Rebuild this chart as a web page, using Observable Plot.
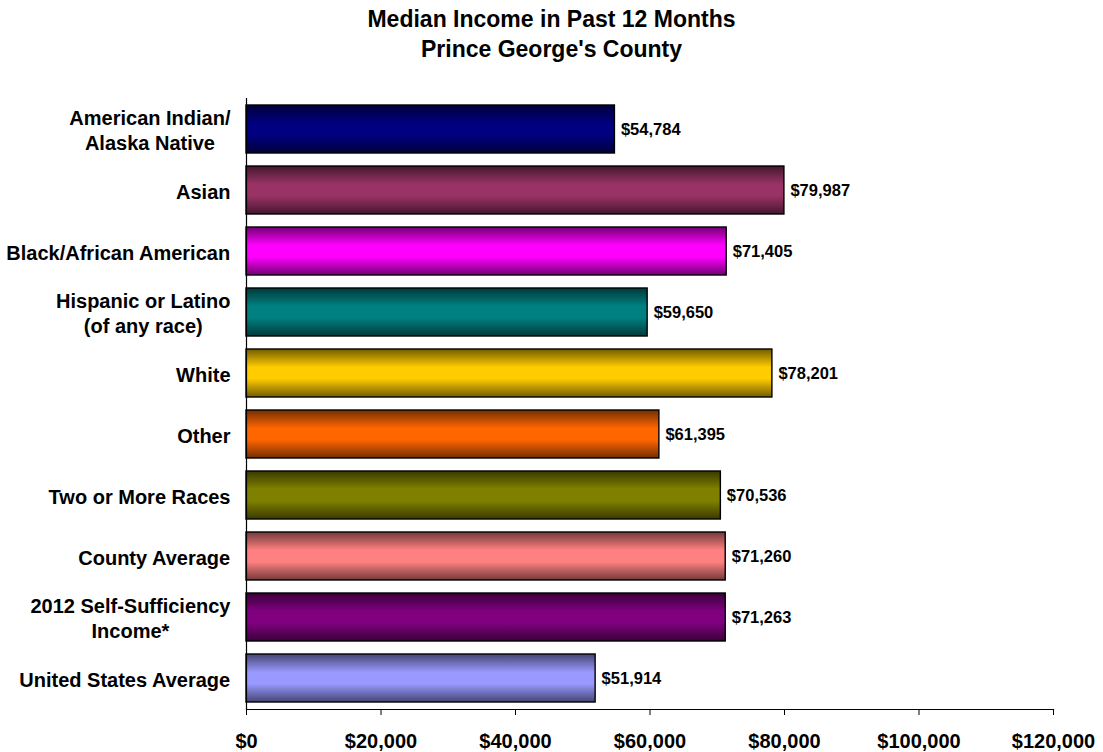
<!DOCTYPE html>
<html>
<head>
<meta charset="utf-8">
<script src="https://cdn.jsdelivr.net/npm/d3@7"></script>
<script src="https://cdn.jsdelivr.net/npm/@observablehq/plot@0.6"></script>
<style>
  html, body { margin: 0; padding: 0; background: #ffffff; }
  #title { width: 1103px; padding-top: 4px; text-align: center; font-family: "Liberation Sans", Arial, sans-serif;
           font-weight: bold; font-size: 23px; line-height: 30px; color: #000; }
  #chart svg { display: block; }
</style>
</head>
<body>
<div id="title">Median Income in Past 12 Months<br>Prince George's County</div>
<div id="chart"></div>
<script>
const categories = [
  "American Indian/Alaska Native",
  "Asian",
  "Black/African American",
  "Hispanic or Latino (of any race)",
  "White",
  "Other",
  "Two or More Races",
  "County Average",
  "2012 Self-Sufficiency Income*",
  "United States Average"
];
const categoryLabels = [
  "American Indian/\nAlaska Native",
  "Asian",
  "Black/African American",
  "Hispanic or Latino\n(of any race)",
  "White",
  "Other",
  "Two or More Races",
  "County Average",
  "2012 Self-Sufficiency\nIncome*",
  "United States Average"
];
const values = [54784, 79987, 71405, 59650, 78201, 61395, 70536, 71260, 71263, 51914];
const colors = ["#000080", "#993366", "#FF00FF", "#008080", "#FFCC00", "#FF6600", "#808000", "#FF8080", "#800080", "#9999FF"];
const xTicks = [0, 20000, 40000, 60000, 80000, 100000, 120000];

const FONT = "'Liberation Sans', Arial, sans-serif";
const money = v => "$" + d3.format(",")(v);

const rows = categories.map((c, i) => ({category: c, value: values[i], fill: `url(#barGrad${i})`}));

// measure label widths to centre each line of a right-aligned label block
const ctx = document.createElement("canvas").getContext("2d");
ctx.font = "bold 20px 'Liberation Sans', Arial, sans-serif";
const labelMarks = categories.map((c, i) => {
  const w = d3.max(categoryLabels[i].split("\n"), s => ctx.measureText(s).width);
  return Plot.text([c], {
    x: 0, y: d => d, text: () => categoryLabels[i],
    textAnchor: "middle", lineAnchor: "middle", lineHeight: 1.28,
    dx: -(16 + w / 2), fontSize: 20, fontWeight: "bold", fill: "black"
  });
});

const svg = Plot.plot({
  width: 1103,
  height: 688,
  marginTop: 34,
  marginBottom: 43,
  marginLeft: 246,
  marginRight: 50,
  style: {fontFamily: FONT, fontWeight: "bold", fontSize: "20px", color: "black", background: "white"},
  x: {domain: [0, 120000], label: null},
  y: {domain: categories, paddingInner: 0.22, paddingOuter: 0.11, axis: null, label: null},
  color: {type: "identity"},
  marks: [
    Plot.barX(rows, {x: "value", y: "category", fill: "fill", stroke: "black", strokeWidth: 1.4}),
    Plot.ruleX([0], {stroke: "black", strokeWidth: 1.2}),
    Plot.frame({anchor: "bottom", stroke: "black", strokeWidth: 1.2}),
    Plot.axisX({ticks: xTicks, tickFormat: money, tickSize: 6, tickPadding: 18, label: null, fontSize: 20, fontWeight: "bold", stroke: "black", strokeOpacity: 1}),
    Plot.text(rows, {x: "value", y: "category", text: d => money(d.value), dx: 6, textAnchor: "start", fontSize: 16.5, fontWeight: "bold", fill: "black"}),
    ...labelMarks
  ]
});

// vertical shading gradients (dark edges, bright centre) for each bar
const defs = d3.select(svg).insert("defs", ":first-child");
colors.forEach((c, i) => {
  const dark = d3.interpolateRgb(c, "#000")(0.55);
  const g = defs.append("linearGradient").attr("id", `barGrad${i}`)
    .attr("x1", 0).attr("y1", 0).attr("x2", 0).attr("y2", 1);
  g.append("stop").attr("offset", "0%").attr("stop-color", dark);
  g.append("stop").attr("offset", "38%").attr("stop-color", c);
  g.append("stop").attr("offset", "62%").attr("stop-color", c);
  g.append("stop").attr("offset", "100%").attr("stop-color", dark);
});

document.getElementById("chart").appendChild(svg);
</script>
</body>
</html>
